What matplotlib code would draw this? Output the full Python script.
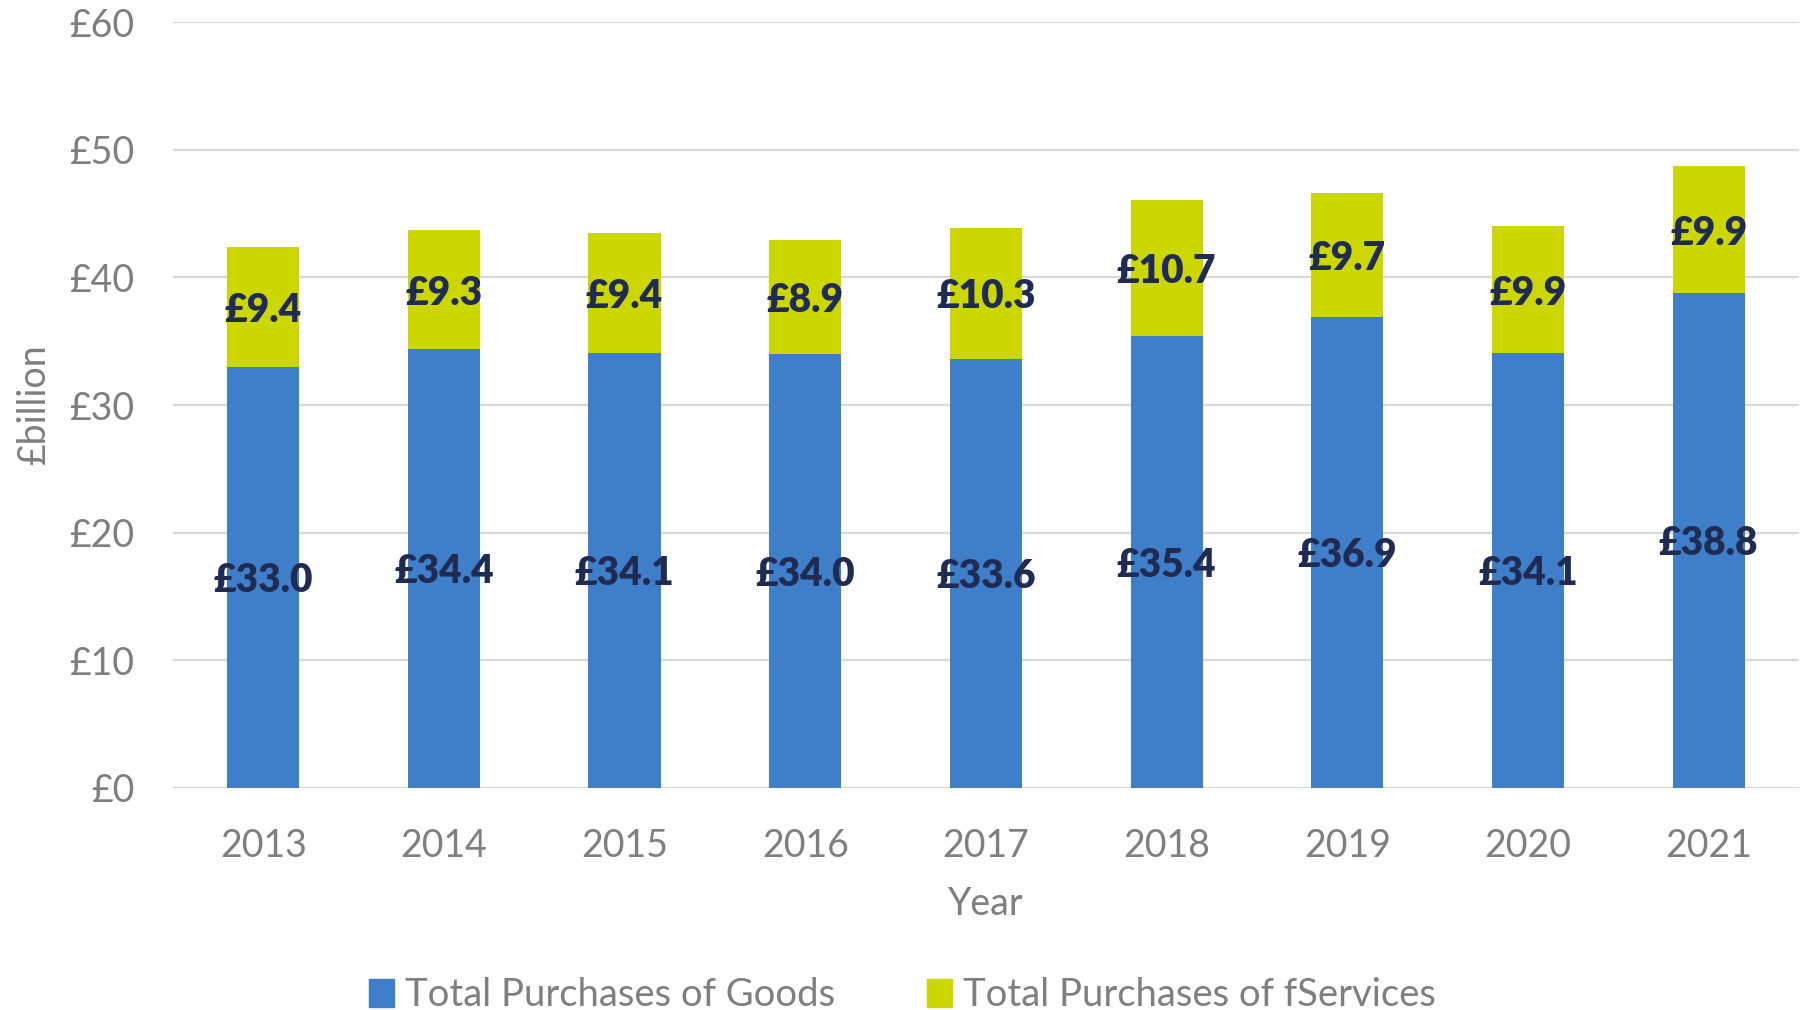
import numpy as np
import matplotlib.pyplot as plt
from matplotlib.patches import Patch

years = ['2013', '2014', '2015', '2016', '2017', '2018', '2019', '2020', '2021']
goods = [33.0, 34.4, 34.1, 34.0, 33.6, 35.4, 36.9, 34.1, 38.8]
services = [9.4, 9.3, 9.4, 8.9, 10.3, 10.7, 9.7, 9.9, 9.9]
yticks = [0, 10, 20, 30, 40, 50, 60]

plt.rcParams['font.family'] = ['Lato', 'DejaVu Sans']

blue = '#3F7FCA'
lime = '#CCD600'
grey = '#7F7F7F'
navy = '#1F2B52'

fig = plt.figure(figsize=(18.05, 10.1), dpi=100)
ax = fig.add_axes([0.0958, 0.22, 0.9009, 0.758])

x = np.arange(len(years))
w = 0.4
ax.bar(x, goods, w, color=blue, zorder=3)
ax.bar(x, services, w, bottom=goods, color=lime, zorder=3)

for i in range(len(years)):
    ax.text(x[i], goods[i] / 2, '£%.1f' % goods[i], ha='center', va='center_baseline',
            fontsize=28, fontweight='heavy', color=navy, zorder=4)
    ax.text(x[i], goods[i] + services[i] / 2, '£%.1f' % services[i], ha='center',
            va='center_baseline', fontsize=28, fontweight='heavy', color=navy, zorder=4)

ax.set_xlim(-0.5, len(years) - 0.5)
ax.set_ylim(0, 60)
ax.set_yticks(yticks)
ax.set_yticklabels(['£%d' % v for v in yticks])
ax.set_xticks(x)
ax.set_xticklabels(years)
ax.yaxis.grid(True, color='#D9D9D9', linewidth=1.6, zorder=0)
for s in ax.spines.values():
    s.set_visible(False)
ax.tick_params(axis='both', length=0, labelsize=27, colors=grey)
ax.tick_params(axis='x', pad=29)
ax.tick_params(axis='y', pad=28)

ax.set_xlabel('Year', fontsize=27, color=grey, labelpad=16)
ax.set_ylabel('£billion', fontsize=27, color=grey, labelpad=12)

handles = [Patch(color=blue, label='Total Purchases of Goods'),
           Patch(color=lime, label='Total Purchases of fServices')]
fig.legend(handles=handles, loc='center', bbox_to_anchor=(0.5, 0.015), ncol=2,
           frameon=False, fontsize=27.5, labelcolor=grey, handlelength=0.65,
           handleheight=0.75, handletextpad=0.3, columnspacing=2.4)

plt.savefig('out.png', dpi=100)
